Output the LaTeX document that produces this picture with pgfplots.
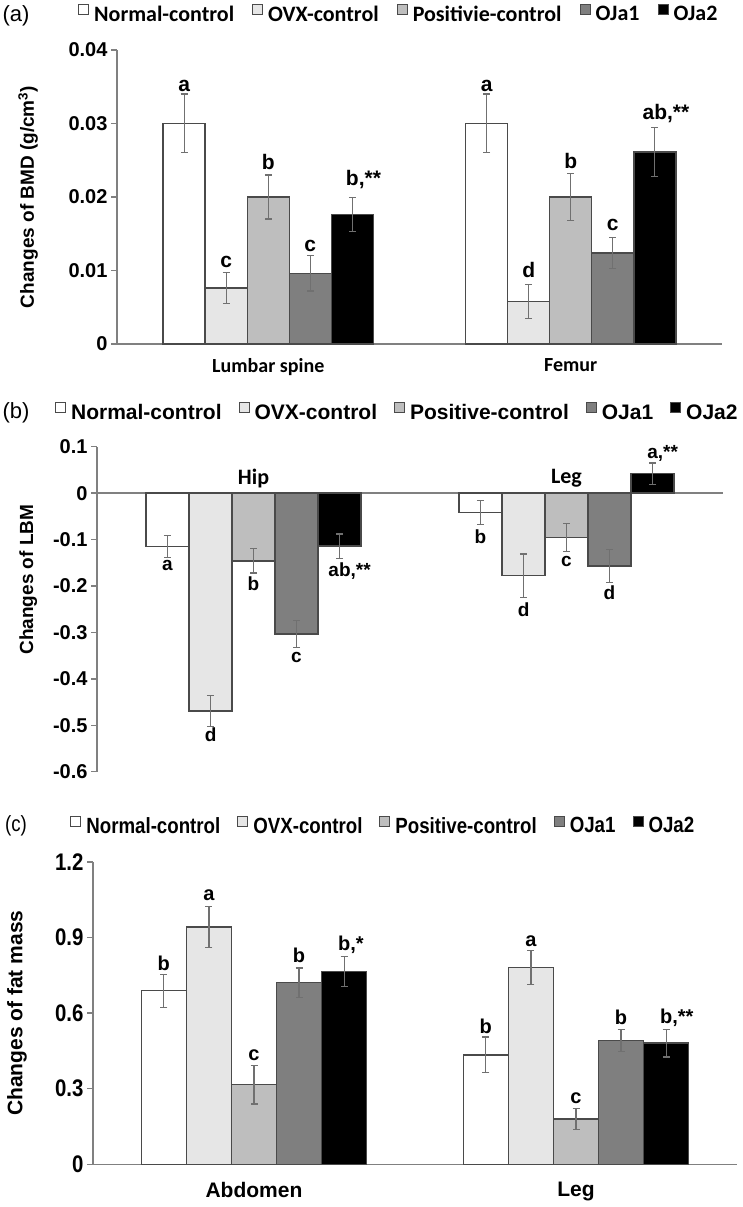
\documentclass[border=0pt]{standalone}
\usepackage{fontspec}
\setmainfont{Liberation Sans}
\newfontfamily\calibri{Carlito}
\newfontfamily\narrow[FakeStretch=0.85]{Liberation Sans}
\usepackage{pgfplots}
\pgfplotsset{compat=1.18}

\definecolor{gOVX}{HTML}{E6E6E6}
\definecolor{gPos}{HTML}{BEBEBE}
\definecolor{gOJa}{HTML}{7F7F7F}
\definecolor{edge}{HTML}{4A4A4A}
\definecolor{axg}{HTML}{808080}
\definecolor{errg}{HTML}{707070}

\newcommand\fs[1]{\fontsize{#1}{#1}\selectfont}

\pgfplotsset{
  sq/.style={legend image code/.code={\draw[##1,line width=1pt] (0pt,0pt) rectangle (10pt,10pt);}},
  eb/.style={error bars/y dir=both, error bars/y explicit,
    error bars/error bar style={draw=errg,line width=1.2pt},
    error bars/error mark options={rotate=90,draw=errg,line width=1.2pt,mark size=3.5pt}},
  bars/.style={draw=edge, line width=1.4pt},
  panel/.style={scale only axis, ybar=0pt, xmin=-0.5, xmax=1.5,
    axis y line*=left,
    axis line style={draw=axg,line width=1.5pt},
    y tick style={draw=axg,line width=1.5pt},
    major tick length=6pt, tick align=outside,
    x tick style={draw=none}, scaled y ticks=false,
    legend columns=5, clip=false,
    ylabel style={anchor=center}},
  leg/.style={draw=none, fill=none, anchor=center,
    nodes={inner xsep=1pt, inner ysep=2pt},
    /tikz/every odd column/.append style={column sep=4pt},
    /tikz/every even column/.append style={column sep=#1}},
}

\begin{document}
\begin{tikzpicture}
\path[use as bounding box] (0pt,0pt) rectangle (742pt,1207pt);

% ---------- (a) BMD ----------
\node[font=\fs{22}] at (16pt,1191pt) {(a)};
\begin{axis}[panel,
  at={(117pt,863pt)}, anchor=south west,
  width=605pt, height=294pt, bar width=0.139,
  ymin=0, ymax=0.04, axis x line*=bottom,
  xtick={0,1}, xticklabels={Lumbar spine, Femur},
  xticklabel style={font=\calibri\bfseries\fs{20}, yshift=-5pt},
  ytick={0,0.01,0.02,0.03,0.04}, yticklabels={0,0.01,0.02,0.03,0.04},
  yticklabel style={font=\bfseries\fs{20}},
  ylabel={Changes of BMD (g/cm\textsuperscript{3})},
  ylabel style={font=\bfseries\fs{19}, at={(axis description cs:-0.147,0.5)}},
  legend style={leg=17pt, at={(0.465,1.122)}, font=\calibri\bfseries\fs{22}},
]
\addplot[bars, sq, fill=white, eb] coordinates {(0,0.0300) +- (0,0.0040) (1,0.0300) +- (0,0.0040)};
\addplot[bars, sq, fill=gOVX, eb] coordinates {(0,0.0076) +- (0,0.0021) (1,0.0058) +- (0,0.0023)};
\addplot[bars, sq, fill=gPos, eb] coordinates {(0,0.0200) +- (0,0.0030) (1,0.0200) +- (0,0.0032)};
\addplot[bars, sq, fill=gOJa, eb] coordinates {(0,0.0096) +- (0,0.0024) (1,0.0124) +- (0,0.0021)};
\addplot[bars, sq, fill=black, eb] coordinates {(0,0.0176) +- (0,0.0023) (1,0.0261) +- (0,0.0033)};
\legend{Normal-control, OVX-control, Positivie-control, OJa1, OJa2}
\begin{scope}[every node/.style={font=\bfseries\fs{21}}]
\node at (axis cs:-0.278,0.0351) {a};
\node at (axis cs:-0.139,0.0111) {c};
\node at (axis cs:0,0.0247) {b};
\node at (axis cs:0.139,0.0133) {c};
\node at (axis cs:0.278,0.0224) {b\rlap{,**}};
\node at (axis cs:0.722,0.0351) {a};
\node at (axis cs:0.861,0.0100) {d};
\node at (axis cs:1,0.0249) {b};
\node at (axis cs:1.139,0.0162) {c};
\node at (axis cs:1.278,0.0314) {ab\rlap{,**}};
\end{scope}
\end{axis}

% ---------- (b) LBM ----------
\node[font=\fs{22}] at (16pt,794pt) {(b)};
\begin{axis}[panel,
  at={(97pt,435.3pt)}, anchor=south west,
  width=626pt, height=325pt, bar width=0.1374,
  ymin=-0.6, ymax=0.1, axis x line*=middle,
  xtick=\empty,
  ytick={-0.6,-0.5,-0.4,-0.3,-0.2,-0.1,0,0.1},
  yticklabels={-0.6,-0.5,-0.4,-0.3,-0.2,-0.1,0,0.1},
  yticklabel style={font=\bfseries\fs{20}},
  ylabel={Changes of LBM},
  ylabel style={font=\bfseries\fs{19}, at={(axis description cs:-0.11,0.591)}},
  legend style={leg=16pt, at={(0.479,1.104)}, font=\bfseries\fs{21}},
]
\addplot[bars, sq, fill=white, eb] coordinates {(0,-0.115) +- (0,0.024) (1,-0.042) +- (0,0.026)};
\addplot[bars, sq, fill=gOVX, eb] coordinates {(0,-0.469) +- (0,0.033) (1,-0.178) +- (0,0.047)};
\addplot[bars, sq, fill=gPos, eb] coordinates {(0,-0.146) +- (0,0.026) (1,-0.096) +- (0,0.030)};
\addplot[bars, sq, fill=gOJa, eb] coordinates {(0,-0.303) +- (0,0.029) (1,-0.157) +- (0,0.036)};
\addplot[bars, sq, fill=black, eb] coordinates {(0,-0.114) +- (0,0.026) (1,0.042) +- (0,0.023)};
\legend{Normal-control, OVX-control, Positive-control, OJa1, OJa2}
\node[font=\calibri\bfseries\fs{22}] at (axis cs:0,0.031) {Hip};
\node[font=\calibri\bfseries\fs{22}] at (axis cs:1,0.033) {Leg};
\begin{scope}[every node/.style={font=\bfseries\fs{19}}]
\node at (axis cs:-0.275,-0.156) {a};
\node at (axis cs:-0.137,-0.520) {d};
\node at (axis cs:0,-0.195) {b};
\node at (axis cs:0.137,-0.353) {c};
\node at (axis cs:0.275,-0.167) {ab\rlap{,**}};
\node at (axis cs:0.725,-0.094) {b};
\node at (axis cs:0.863,-0.252) {d};
\node at (axis cs:1,-0.147) {c};
\node at (axis cs:1.137,-0.215) {d};
\node at (axis cs:1.275,0.0865) {a\rlap{,**}};
\end{scope}
\end{axis}

% ---------- (c) fat mass ----------
\node[font=\narrow\fs{22}] at (16pt,381pt) {(c)};
\begin{axis}[panel,
  at={(93pt,42.7pt)}, anchor=south west,
  width=644pt, height=302.3pt, bar width=0.14,
  ymin=0, ymax=1.2, axis x line*=bottom,
  xtick={0,1}, xticklabels={Abdomen, Leg},
  xticklabel style={font=\bfseries\fs{21}, yshift=-8pt},
  ytick={0,0.3,0.6,0.9,1.2}, yticklabels={0,0.3,0.6,0.9,1.2},
  yticklabel style={font=\narrow\bfseries\fs{24}},
  ylabel={Changes of fat mass},
  ylabel style={font=\bfseries\fs{21}, at={(axis description cs:-0.118,0.5)}},
  legend style={leg=16pt, at={(0.450,1.119)}, font=\narrow\bfseries\fs{22}},
]
\addplot[bars, sq, fill=white, eb] coordinates {(0,0.689) +- (0,0.065) (1,0.434) +- (0,0.071)};
\addplot[bars, sq, fill=gOVX, eb] coordinates {(0,0.942) +- (0,0.082) (1,0.781) +- (0,0.067)};
\addplot[bars, sq, fill=gPos, eb] coordinates {(0,0.316) +- (0,0.077) (1,0.180) +- (0,0.043)};
\addplot[bars, sq, fill=gOJa, eb] coordinates {(0,0.721) +- (0,0.058) (1,0.492) +- (0,0.043)};
\addplot[bars, sq, fill=black, eb] coordinates {(0,0.766) +- (0,0.060) (1,0.481) +- (0,0.055)};
\legend{Normal-control, OVX-control, Positive-control, OJa1, OJa2}
\begin{scope}[every node/.style={font=\bfseries\fs{20}}]
\node at (axis cs:-0.28,0.798) {b};
\node at (axis cs:-0.14,1.069) {a};
\node at (axis cs:0,0.434) {c};
\node at (axis cs:0.14,0.828) {b};
\node at (axis cs:0.28,0.871) {b\rlap{,*}};
\node at (axis cs:0.72,0.546) {b};
\node at (axis cs:0.86,0.884) {a};
\node at (axis cs:1,0.262) {c};
\node at (axis cs:1.14,0.582) {b};
\node at (axis cs:1.28,0.582) {b\rlap{,**}};
\end{scope}
\end{axis}
\end{tikzpicture}
\end{document}
